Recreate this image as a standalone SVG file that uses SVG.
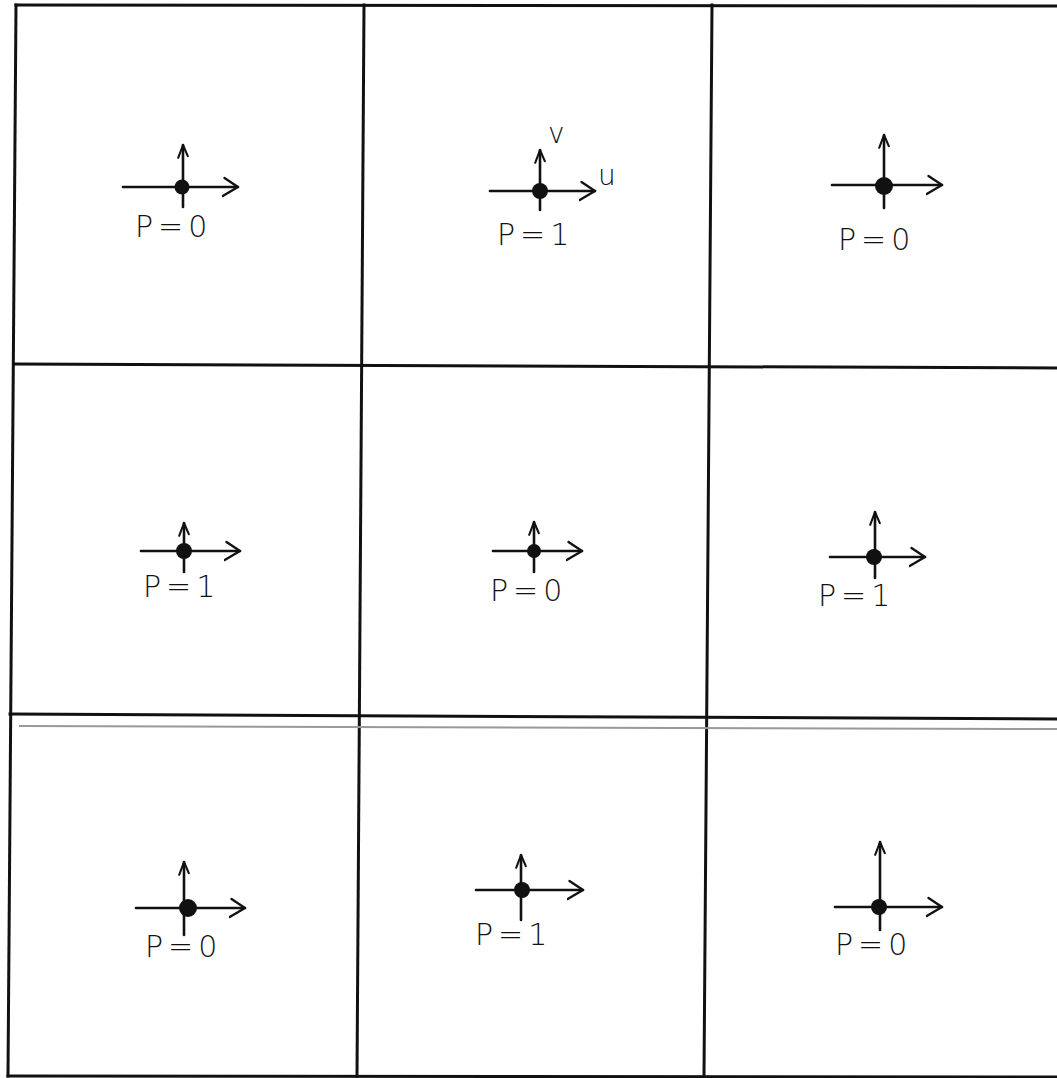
<svg xmlns="http://www.w3.org/2000/svg" width="1057" height="1078" viewBox="0 0 1057 1078">
<style>
.grid line{stroke:#111;stroke-width:3;stroke-linecap:square}
.grid line.faint{stroke:#999;stroke-width:2}
.ax{stroke:#111;stroke-width:2.6;fill:none;stroke-linecap:round}
.hx{marker-end:url(#ah)}
.vx{marker-end:url(#av)}
.dot{fill:#111}
.lbl{font-family:"DejaVu Sans","Liberation Sans",sans-serif;font-size:30px;font-weight:200;fill:#111;letter-spacing:5px}
.sm{font-family:"DejaVu Sans","Liberation Sans",sans-serif;font-size:28px;font-weight:200;fill:#111}
</style>
<defs>
<marker id="ah" markerUnits="userSpaceOnUse" viewBox="0 0 20 24" refX="18" refY="12" markerWidth="18" markerHeight="24" orient="auto">
<path d="M3,2 L18,12 L1,22" fill="none" stroke="#111" stroke-width="2.6" stroke-linecap="round" stroke-linejoin="round"/>
</marker>
<marker id="av" markerUnits="userSpaceOnUse" viewBox="0 0 20 16" refX="18" refY="8" markerWidth="16" markerHeight="14" orient="auto">
<path d="M2,2 L18,8 L4,14" fill="none" stroke="#111" stroke-width="2.6" stroke-linecap="round" stroke-linejoin="round"/>
</marker>
</defs>
<rect width="1057" height="1078" fill="#fff"/>
<g id="grid" class="grid">
<line x1="16" y1="5" x2="1057" y2="6"/>
<line x1="16" y1="5" x2="8" y2="1076"/>
<line x1="8" y1="1076" x2="1057" y2="1077"/>
<line x1="364" y1="5" x2="357" y2="1076"/>
<line x1="712" y1="5" x2="704" y2="1076"/>
<line x1="14" y1="364" x2="1057" y2="368"/>
<line x1="10" y1="714" x2="1057" y2="719"/>
<line class="faint" x1="20" y1="726" x2="1057" y2="729"/>
</g>
<g id="cell-1-1">
<path class="ax hx" d="M123,187 L238,187"/>
<path class="ax vx" d="M183,207 L183,145"/>
<circle class="dot" cx="182" cy="187" r="7.5"/>
<text class="lbl" x="135" y="237">P=0</text>
</g>
<g id="cell-1-2">
<path class="ax hx" d="M490,191 L595,191"/>
<path class="ax vx" d="M540,210 L540,150"/>
<circle class="dot" cx="540" cy="191" r="8"/>
<text class="sm" x="548" y="143">v</text>
<text class="sm" x="598" y="185">u</text>
<text class="lbl" x="497" y="245">P=1</text>
</g>
<g id="cell-1-3">
<path class="ax hx" d="M832,185 L942,185"/>
<path class="ax vx" d="M884,208 L884,135"/>
<circle class="dot" cx="884" cy="186" r="9"/>
<text class="lbl" x="838" y="250">P=0</text>
</g>
<g id="cell-2-1">
<path class="ax hx" d="M141,551 L240,551"/>
<path class="ax vx" d="M184,572 L184,523"/>
<circle class="dot" cx="184" cy="551" r="8"/>
<text class="lbl" x="143" y="597">P=1</text>
</g>
<g id="cell-2-2">
<path class="ax hx" d="M493,551 L582,551"/>
<path class="ax vx" d="M534,572 L534,522"/>
<circle class="dot" cx="534" cy="551" r="7"/>
<text class="lbl" x="490" y="601">P=0</text>
</g>
<g id="cell-2-3">
<path class="ax hx" d="M830,557 L925,557"/>
<path class="ax vx" d="M875,578 L875,512"/>
<circle class="dot" cx="874" cy="557" r="8"/>
<text class="lbl" x="818" y="606">P=1</text>
</g>
<g id="cell-3-1">
<path class="ax hx" d="M136,908 L245,908"/>
<path class="ax vx" d="M184,935 L184,862"/>
<circle class="dot" cx="188" cy="908" r="9"/>
<text class="lbl" x="145" y="957">P=0</text>
</g>
<g id="cell-3-2">
<path class="ax hx" d="M476,890 L583,890"/>
<path class="ax vx" d="M521,920 L521,855"/>
<circle class="dot" cx="522" cy="890" r="8"/>
<text class="lbl" x="475" y="945">P=1</text>
</g>
<g id="cell-3-3">
<path class="ax hx" d="M835,907 L942,907"/>
<path class="ax vx" d="M880,930 L880,842"/>
<circle class="dot" cx="879" cy="907" r="8"/>
<text class="lbl" x="835" y="955">P=0</text>
</g>
</svg>
